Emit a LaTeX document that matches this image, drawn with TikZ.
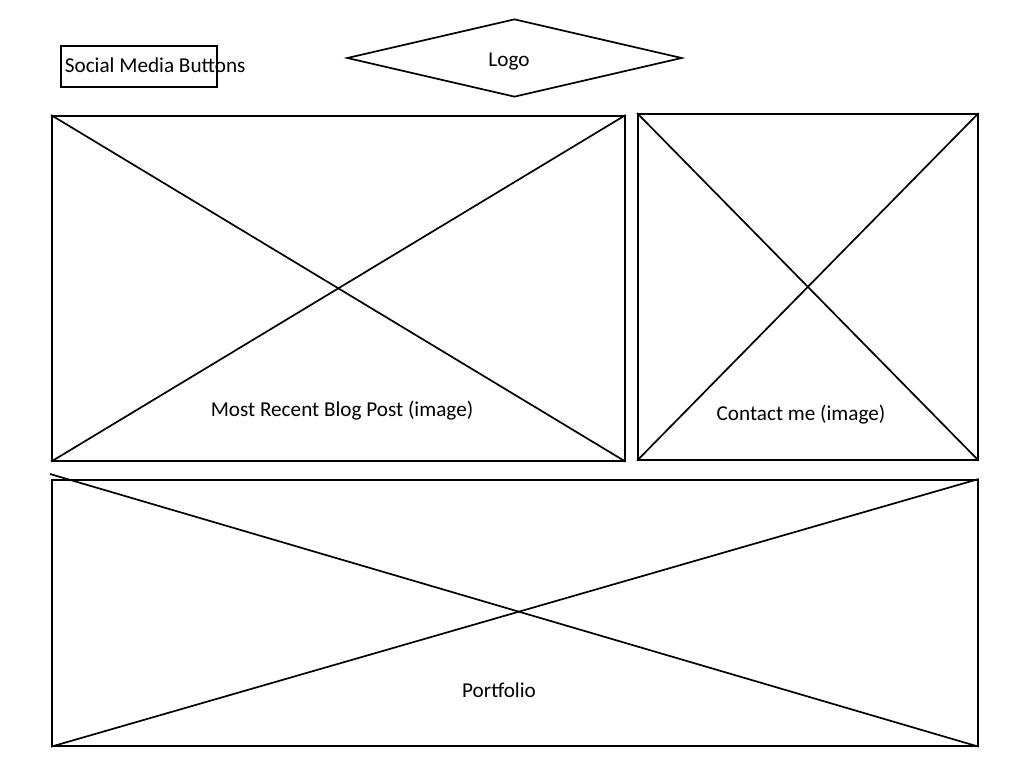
\documentclass[tikz,border=0pt]{standalone}
\usepackage{fontspec}
\setmainfont{Carlito}
\usetikzlibrary{shapes.geometric}
\tikzset{
  frame/.style={draw, inner sep=0pt, anchor=north west},
  caption/.style={inner sep=0pt}
}
\begin{document}
\begin{tikzpicture}[x=1pt, y=-1pt, line width=1.7pt, font=\fontsize{21.2}{25}\selectfont]
      \useasboundingbox (0,0) rectangle (1023,768);

      % Header (buttons and logo)
      \node[frame, minimum width=156pt, minimum height=41pt] (social) at (60,45) {};
      \node[caption, anchor=west] (socialtext) at (64,65) {Social Media Buttons};
      \node[draw, diamond, inner sep=0pt, minimum width=335pt, minimum height=78pt] (logo) at (514.5,58) {};
      \node[caption] (logotext) at (509,61.5) {Logo};

      % Image placeholders
      \node[frame, minimum width=573pt, minimum height=345pt] (blog) at (51,115) {};
      \draw (blog.north west) -- (blog.south east);
      \draw (blog.south west) -- (blog.north east);
      \node[caption] (blogtext) at (342,411) {Most Recent Blog Post (image)};

      \node[frame, minimum width=340pt, minimum height=346pt] (contact) at (637,113) {};
      \draw (contact.north west) -- (contact.south east);
      \draw (contact.south west) -- (contact.north east);
      \node[caption] (contacttext) at (801,415) {Contact me (image)};

      \node[frame, minimum width=926pt, minimum height=266pt] (portfolio) at (51,479) {};
      \coordinate (pstart) at (50,474);
      \draw (pstart) -- (portfolio.south east);
      \draw (portfolio.south west) -- (portfolio.north east);
      \node[caption] (portfoliotext) at (499,690) {Portfolio};
\end{tikzpicture}
\end{document}
